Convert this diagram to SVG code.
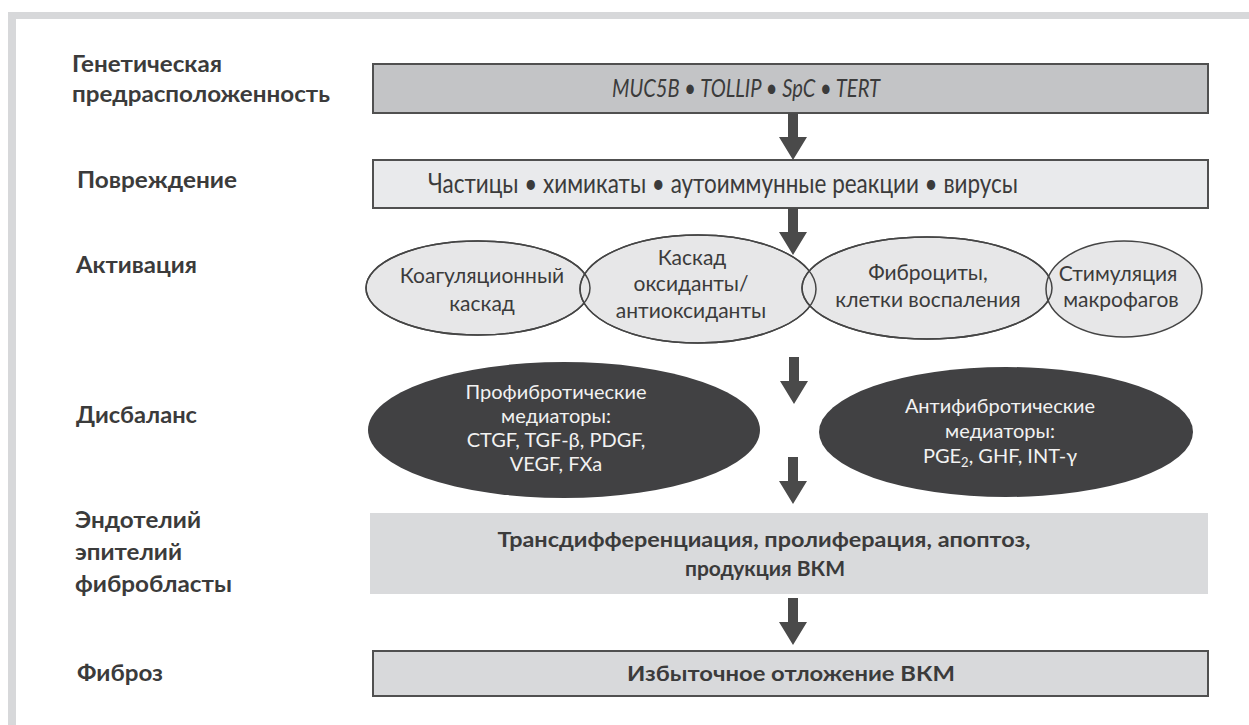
<svg xmlns="http://www.w3.org/2000/svg" xmlns:xlink="http://www.w3.org/1999/xlink" width="1249" height="725" viewBox="0 0 1249 725">
<style>
.lbl{font-family:Lato,"Open Sans","DejaVu Sans",sans-serif;font-weight:bold;font-size:22px;fill:#3b3b3b}
.t{font-family:Lato,"Open Sans","DejaVu Sans",sans-serif;fill:#3b3b3b;text-anchor:middle}
.big{font-size:26px}
.ell{font-size:21px}
.wt{font-family:Lato,"Open Sans","DejaVu Sans",sans-serif;fill:#f2f2f2;text-anchor:middle;font-size:20px}
.bold{font-weight:bold;font-size:21px}
.box{stroke:#505050;stroke-width:2}
.le{fill:#e7e7e8;stroke:#454545;stroke-width:1.5}
.de{fill:#414143}
.outl{fill:none;stroke:#454545;stroke-width:1.5}
.arr{fill:#4a4a4a}
</style>
<defs>
<path id="arrowShape" d="M-5,0 H5 V24 H14 L0,47 L-14,24 H-5 Z"/>
</defs>
<rect x="0" y="0" width="1249" height="725" fill="#ffffff"/>
<g id="frame">
<rect x="8" y="12" width="1241" height="7" fill="#d7d8da"/>
<rect x="8" y="12" width="8" height="713" fill="#d7d8da"/>
</g>
<g id="labels">
<text class="lbl" x="72" y="72" textLength="150" lengthAdjust="spacingAndGlyphs">Генетическая</text>
<text class="lbl" x="72" y="102" textLength="258" lengthAdjust="spacingAndGlyphs">предрасположенность</text>
<text class="lbl" x="77" y="188" textLength="160" lengthAdjust="spacingAndGlyphs">Повреждение</text>
<text class="lbl" x="76" y="273" textLength="121" lengthAdjust="spacingAndGlyphs">Активация</text>
<text class="lbl" x="76" y="423" textLength="121" lengthAdjust="spacingAndGlyphs">Дисбаланс</text>
<text class="lbl" x="75" y="528" textLength="126" lengthAdjust="spacingAndGlyphs">Эндотелий</text>
<text class="lbl" x="75" y="560" textLength="107" lengthAdjust="spacingAndGlyphs">эпителий</text>
<text class="lbl" x="75" y="592" textLength="157" lengthAdjust="spacingAndGlyphs">фибробласты</text>
<text class="lbl" x="77" y="681" textLength="86" lengthAdjust="spacingAndGlyphs">Фиброз</text>
</g>
<g id="node-genetic">
<rect class="box" x="373" y="64" width="835" height="49" fill="#c3c4c6"/>
<text class="t big" x="746" y="97" font-style="italic" textLength="268" lengthAdjust="spacingAndGlyphs">MUC5B • TOLLIP • SpC • TERT</text>
</g>
<g id="node-damage">
<rect class="box" x="373" y="160" width="835" height="48" fill="#e9eaec"/>
<text class="t big" x="723" y="193" textLength="590" lengthAdjust="spacingAndGlyphs">Частицы • химикаты • аутоиммунные реакции • вирусы</text>
</g>
<g id="node-coag">
<ellipse class="le" cx="478" cy="288" rx="112" ry="47"/>
<text class="t ell" x="482" y="283">Коагуляционный</text>
<text class="t ell" x="482" y="311">каскад</text>
</g>
<g id="node-oxid">
<ellipse class="le" cx="698" cy="289" rx="118" ry="54"/>
<text class="t ell" x="692" y="265">Каскад</text>
<text class="t ell" x="691" y="291">оксиданты/</text>
<text class="t ell" x="691" y="318">антиоксиданты</text>
</g>
<g id="node-fibro">
<ellipse class="le" cx="927" cy="288" rx="125" ry="51"/>
<text class="t ell" x="928" y="280">Фиброциты,</text>
<text class="t ell" x="928" y="307">клетки воспаления</text>
</g>
<g id="node-macro">
<ellipse class="le" cx="1124" cy="289" rx="78" ry="48"/>
<text class="t ell" x="1118" y="281">Стимуляция</text>
<text class="t ell" x="1121" y="307">макрофагов</text>
</g>
<g id="outlines">
<ellipse class="outl" cx="478" cy="288" rx="112" ry="47"/>
<ellipse class="outl" cx="698" cy="289" rx="118" ry="54"/>
<ellipse class="outl" cx="927" cy="288" rx="125" ry="51"/>
</g>
<g id="node-pro">
<ellipse class="de" cx="564" cy="430" rx="196" ry="68"/>
<text class="wt" x="556" y="399">Профибротические</text>
<text class="wt" x="556" y="423">медиаторы:</text>
<text class="wt" x="556" y="447">CTGF, TGF-β, PDGF,</text>
<text class="wt" x="556" y="471">VEGF, FXa</text>
</g>
<g id="node-anti">
<ellipse class="de" cx="1006" cy="432" rx="187" ry="65"/>
<text class="wt" x="1000" y="413">Антифибротические</text>
<text class="wt" x="1000" y="438">медиаторы:</text>
<text class="wt" x="1000" y="463">PGE<tspan font-size="13" dy="4">2</tspan><tspan dy="-4">, GHF, INT-γ</tspan></text>
</g>
<g id="node-trans">
<rect x="370" y="513" width="838" height="81" fill="#d9dadc"/>
<text class="t bold" x="764" y="547" textLength="533" lengthAdjust="spacingAndGlyphs">Трансдифференциация,  пролиферация, апоптоз,</text>
<text class="t bold" x="765" y="576">продукция ВКМ</text>
</g>
<g id="node-fibrosis">
<rect class="box" x="373" y="651" width="835" height="45" fill="#d8d9db"/>
<text class="t bold" x="791" y="681" textLength="328" lengthAdjust="spacingAndGlyphs">Избыточное отложение ВКМ</text>
</g>
<g id="connectors" class="arr">
<use xlink:href="#arrowShape" x="793" y="113"/>
<use xlink:href="#arrowShape" x="793" y="208"/>
<use xlink:href="#arrowShape" x="794" y="357"/>
<use xlink:href="#arrowShape" x="793" y="457"/>
<use xlink:href="#arrowShape" x="793" y="598"/>
</g>
</svg>
